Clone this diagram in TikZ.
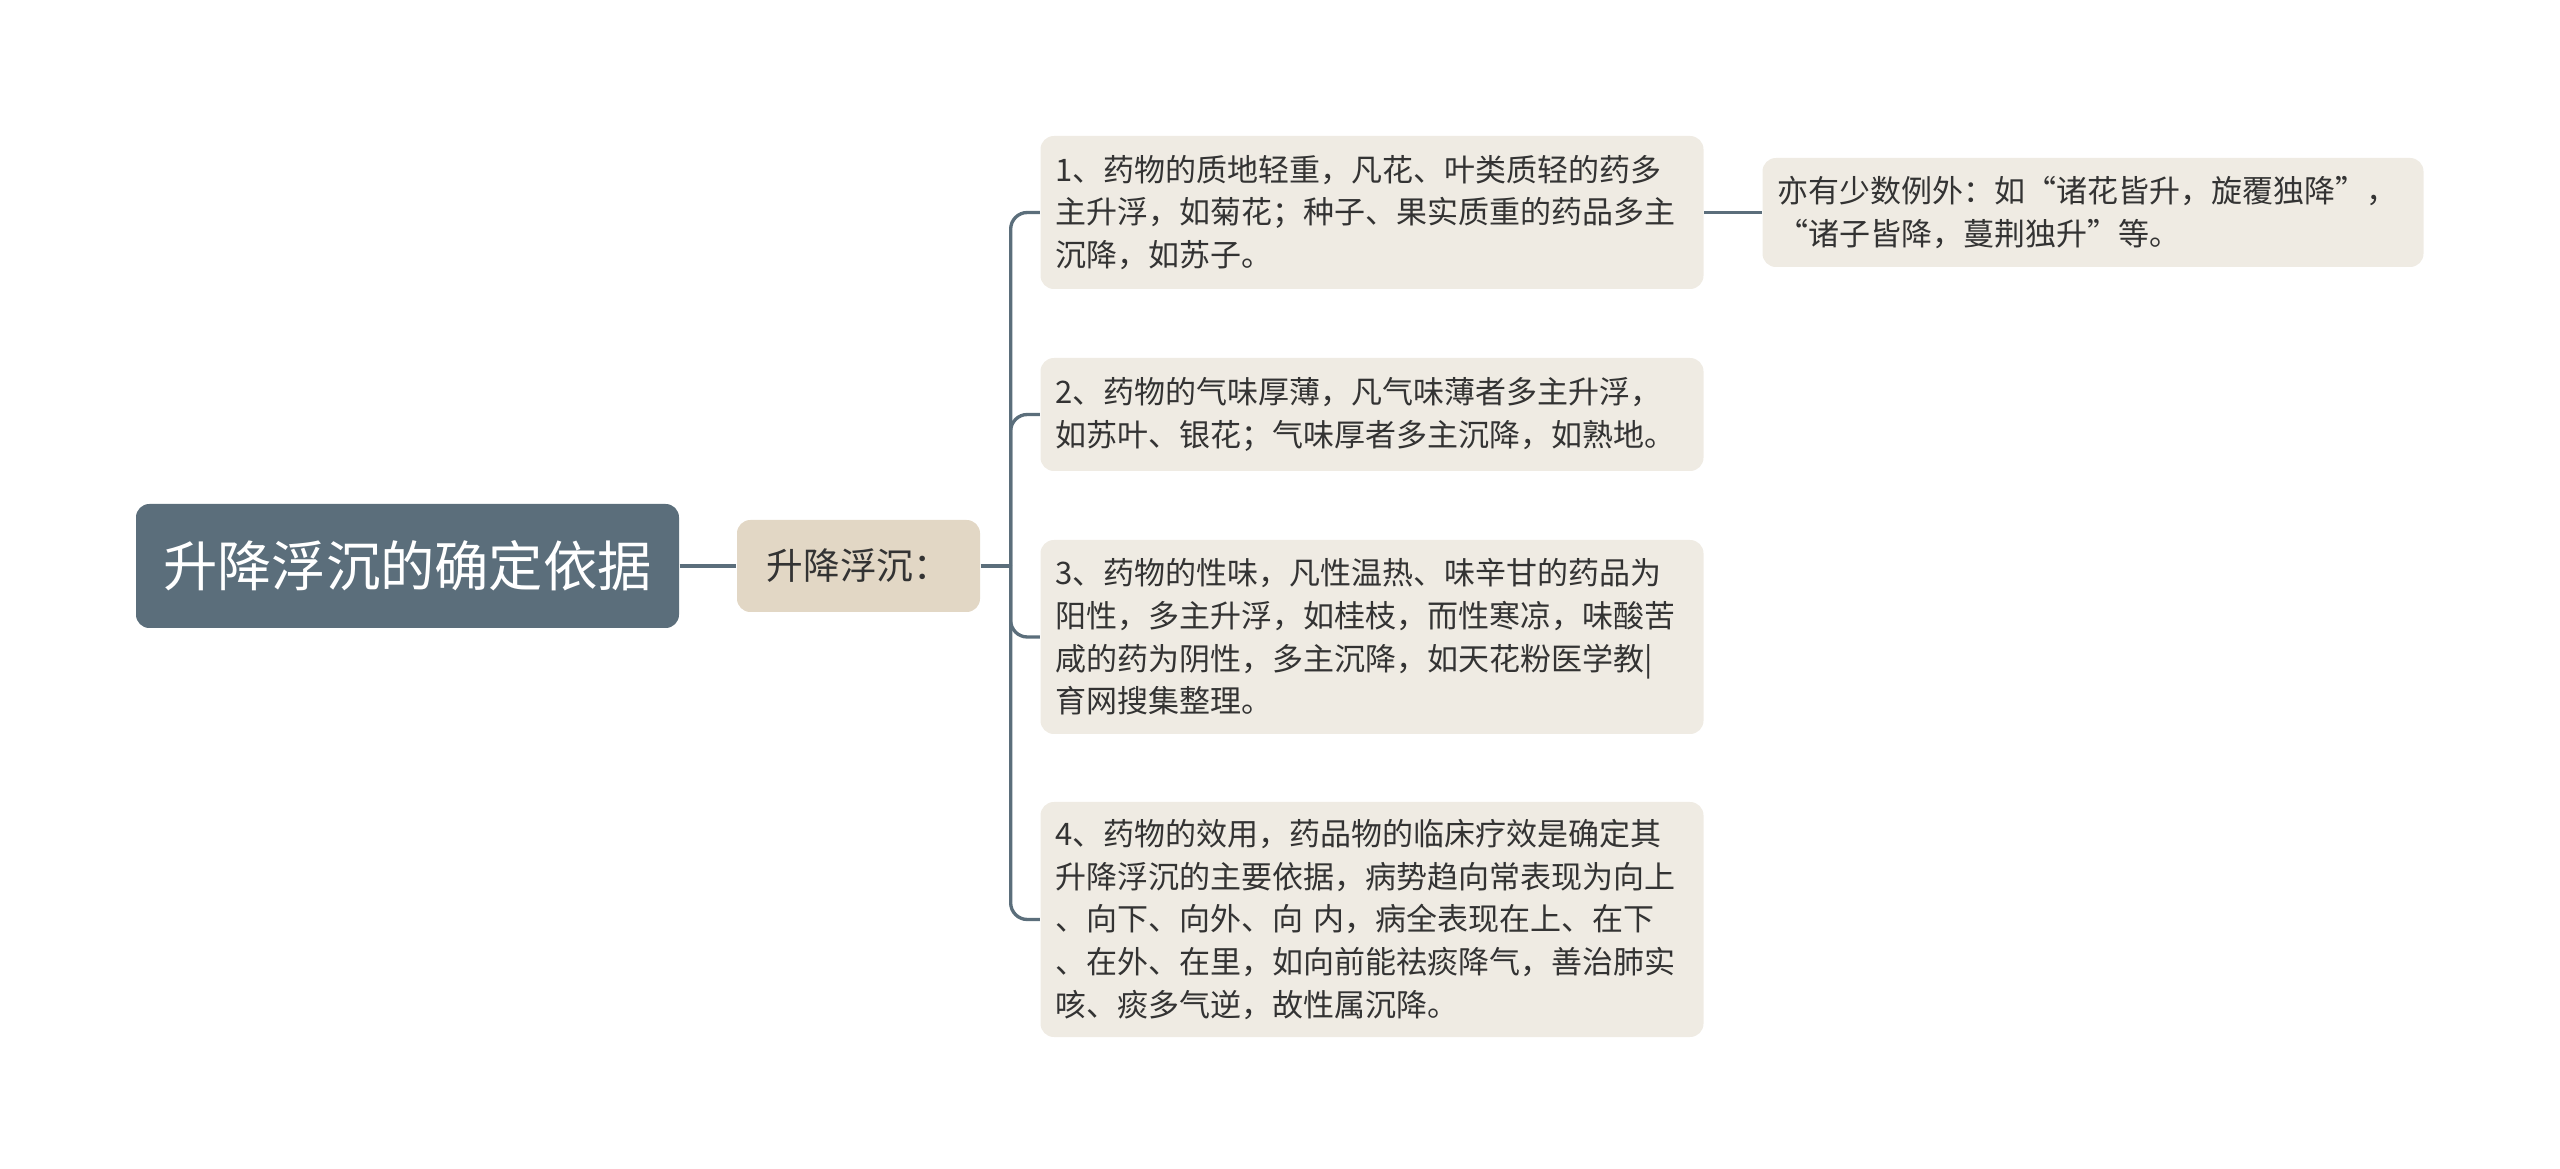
\documentclass[tikz,border=0pt]{standalone}
\usepackage{fontspec}
\setmainfont{Noto Sans CJK SC}
\definecolor{slate}{HTML}{5B6E7B}
\definecolor{sand}{HTML}{E2D7C5}
\definecolor{paper}{HTML}{EFEBE3}
\definecolor{ink}{HTML}{333333}
\begin{document}
\begin{tikzpicture}[x=0.3pt, y=-0.3pt,
    root/.style = {fill=slate, text=white, rounded corners=4pt, minimum width=162.9pt, minimum height=37.2pt, font=\fontsize{16.3}{20}\selectfont},
    sub/.style = {fill=sand, text=ink, rounded corners=4pt, minimum width=72.9pt, minimum height=27.6pt, font=\fontsize{11}{14}\selectfont},
    leaf/.style = {fill=paper, text=ink, rounded corners=4pt, align=left, inner xsep=4.5pt, text width=189.9pt, font=\fontsize{9.3}{12.8}\selectfont},
    link/.style = {draw=slate, line width=1pt, rounded corners=5pt}]
    \useasboundingbox (0,0) rectangle (2560,1169);
    \node[root] (root) at (407.5,566) {升降浮沉的确定依据};
    \node[sub] (mid) at (858.5,566) {升降浮沉：};
    \node[leaf, minimum height=45.9pt] (b1) at (1372,212.5) {1、药物的质地轻重，凡花、叶类质轻的药多\\主升浮，如菊花；种子、果实质重的药品多主\\沉降，如苏子。};
    \node[leaf, minimum height=33.9pt] (b2) at (1372,414.5) {2、药物的气味厚薄，凡气味薄者多主升浮，\\如苏叶、银花；气味厚者多主沉降，如熟地。};
    \node[leaf, minimum height=58.2pt] (b3) at (1372,637) {3、药物的性味，凡性温热、味辛甘的药品为\\阳性，多主升浮，如桂枝，而性寒凉，味酸苦\\咸的药为阴性，多主沉降，如天花粉医学教|\\育网搜集整理。};
    \node[leaf, minimum height=70.5pt] (b4) at (1372,919.5) {4、药物的效用，药品物的临床疗效是确定其\\升降浮沉的主要依据，病势趋向常表现为向上\\、向下、向外、向 内，病全表现在上、在下\\、在外、在里，如向前能祛痰降气，善治肺实\\咳、痰多气逆，故性属沉降。};
    \node[leaf, text width=189.3pt, minimum height=32.7pt] (b5) at (2093,212.5) {亦有少数例外：如“诸花皆升，旋覆独降”，\\“诸子皆降，蔓荆独升”等。};
    \draw[link] (root.east) -- (mid.west);
    \draw[link] (mid.east) -- ++(30,0) coordinate (trunk);
    \foreach \b in {b1,b2,b3,b4}
        \draw[link] (trunk) |- (\b.west);
    \draw[link] (b1.east) -- (b5.west);
\end{tikzpicture}
\end{document}
